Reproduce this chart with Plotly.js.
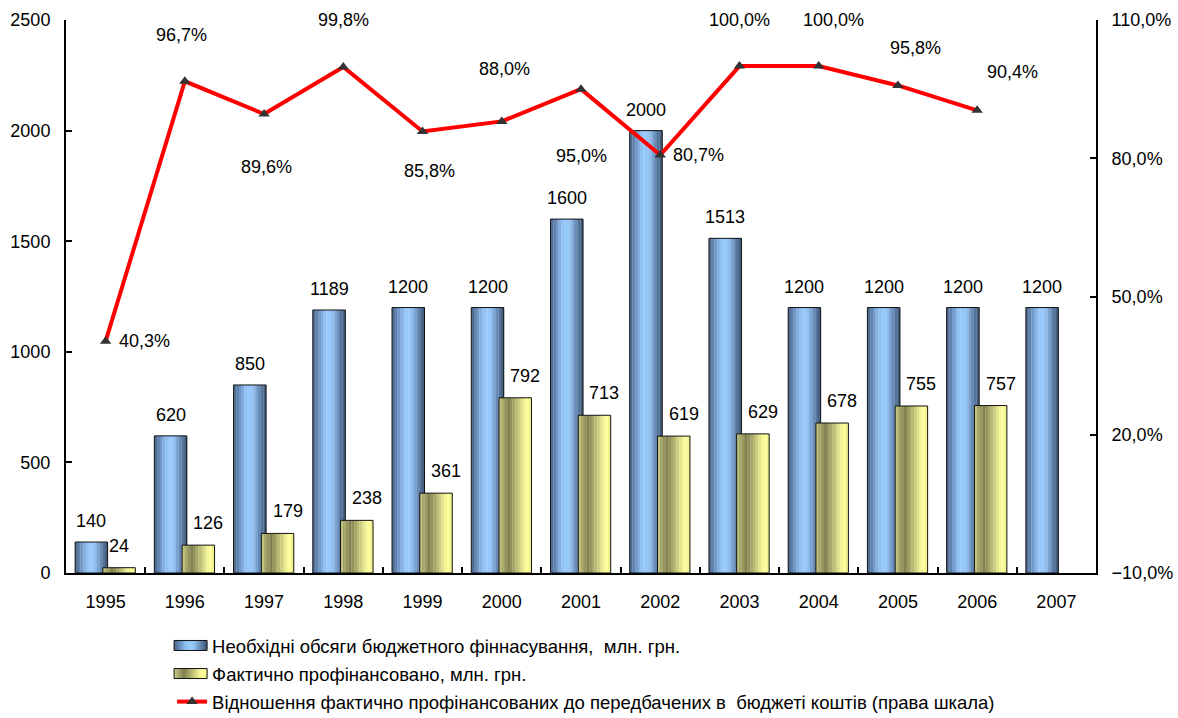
<!DOCTYPE html>
<html>
<head>
<meta charset="utf-8">
<script src="https://cdn.plot.ly/plotly-3.0.1.min.js"></script>
<style>
html,body{margin:0;padding:0;background:#fff;}
#chart{width:1178px;height:718px;}
</style>
</head>
<body>
<div id="chart"></div>
<script>
// ---- data ----
const years = ['1995','1996','1997','1998','1999','2000','2001','2002','2003','2004','2005','2006','2007'];
const required = [140, 620, 850, 1189, 1200, 1200, 1600, 2000, 1513, 1200, 1200, 1200, 1200];
const financed = [24, 126, 179, 238, 361, 792, 713, 619, 629, 678, 755, 757];
const ratioPct = [40.3, 96.7, 89.6, 99.8, 85.8, 88.0, 95.0, 80.7, 100.0, 100.0, 95.8, 90.4];
const seriesNames = [
  'Необхідні обсяги бюджетного фіннасування,  млн. грн.',
  'Фактично профінансовано, млн. грн.',
  'Відношення фактично профінансованих до передбачених в  бюджеті коштів (права шкала)'
];

// ---- styling ----
const FONT = 'Liberation Sans, Arial, sans-serif';
const FS = 18;
const BAR_W = 0.41;
const BLUE_OFF = -0.385, YEL_OFF = -0.035;
const CAT_PX = 1030 / 13;
const N = 12;
const blueStops = [[0,'#4a6587'],[0.12,'#5e80ab'],[0.35,'#8fbff0'],[0.5,'#99ccff'],[0.62,'#8fbdee'],[0.85,'#5a7aa3'],[1,'#3b5472']];
const yelStops  = [[0,'#cfcf8a'],[0.15,'#a3a366'],[0.3,'#80804f'],[0.55,'#bcbc76'],[0.78,'#f4f497'],[0.9,'#ffff99'],[1,'#e8e88d']];

function hex2rgb(h){return [parseInt(h.slice(1,3),16),parseInt(h.slice(3,5),16),parseInt(h.slice(5,7),16)];}
function colorAt(stops,t){
  for(let i=0;i<stops.length-1;i++){
    const [a,ca]=stops[i],[b,cb]=stops[i+1];
    if(t>=a && t<=b){
      const f=(t-a)/(b-a), A=hex2rgb(ca), B=hex2rgb(cb);
      return 'rgb('+A.map((v,k)=>Math.round(v+(B[k]-v)*f)).join(',')+')';
    }
  }
  return stops[stops.length-1][1];
}

const traces = [];
function addBarSeries(xs, ys, off, stops){
  for(let i=0;i<N;i++){
    traces.push({
      type:'bar', x:xs, y:ys, yaxis:'y',
      offset: off + i*BAR_W/N, width: BAR_W/N*1.08,
      marker:{color: colorAt(stops,(i+0.5)/N), line:{width:0}},
      showlegend:false, hoverinfo:'skip'
    });
  }
  traces.push({
    type:'bar', x:xs, y:ys, yaxis:'y', offset:off, width:BAR_W,
    marker:{color:'rgba(0,0,0,0)', line:{color:'#111', width:1}},
    showlegend:false, hoverinfo:'skip'
  });
}
addBarSeries(years, required, BLUE_OFF, blueStops);
addBarSeries(years.slice(0, financed.length), financed, YEL_OFF, yelStops);

// legend entries for the bar series
traces.push({type:'bar', x:years, y:years.map(()=>null), name:seriesNames[0], legendgroup:'a',
  marker:{color:'#7fa8d6', line:{color:'#111', width:1}}, hoverinfo:'skip'});
traces.push({type:'bar', x:years, y:years.map(()=>null), name:seriesNames[1], legendgroup:'b',
  marker:{color:'#c4c47c', line:{color:'#111', width:1}}, hoverinfo:'skip'});

traces.push({
  type:'scatter', mode:'lines+markers', x:years.slice(0, ratioPct.length), y:ratioPct, yaxis:'y2',
  name:seriesNames[2], legendgroup:'c',
  line:{color:'#ff0000', width:4},
  marker:{symbol:'triangle-up', size:10, color:'#333333'}
});

// ---- annotations (x given as category index) ----
const annotations = [];
const blueCenterPx = (BLUE_OFF + BAR_W/2) * CAT_PX;
const yelCenterPx = (YEL_OFF + BAR_W/2) * CAT_PX;
required.forEach((v,i)=>annotations.push({x:i, y:v, xref:'x', yref:'y', text:String(v), showarrow:false,
  xshift: blueCenterPx, yshift: 21, font:{size:FS}}));
const yelLabelDx = [0,10,10,10,10,10,10,10,10,10,10,10];
financed.forEach((v,i)=>annotations.push({x:i, y:v, xref:'x', yref:'y', text:String(v), showarrow:false,
  xshift: yelCenterPx + yelLabelDx[i], yshift: 22, font:{size:FS}}));
const lineLabelShift = [[39,0],[-3,46],[2,-53],[0,47],[7,-39],[3,52],[0,-67],[38,0],[0,46],[15,46],[18,37],[35,38]];
ratioPct.forEach((v,i)=>annotations.push({x:i, y:v, xref:'x', yref:'y2',
  text: v.toFixed(1).replace('.',',')+'%', showarrow:false,
  xshift: lineLabelShift[i][0], yshift: lineLabelShift[i][1], font:{size:FS}}));

const layout = {
  width:1178, height:718,
  margin:{l:66, r:82, t:20, b:145},
  paper_bgcolor:'#ffffff', plot_bgcolor:'#ffffff',
  font:{family:FONT, size:FS, color:'#000'},
  separators:', ',
  barmode:'overlay',
  showlegend:true,
  legend:{x:0.103, y:0.1268, xref:'paper', yref:'container', xanchor:'left', yanchor:'top', orientation:'v',
    font:{family:FONT, size:18.5, color:'#000'}, tracegroupgap:1, bgcolor:'rgba(0,0,0,0)'},
  xaxis:{type:'category', range:[-0.5,12.5], tickson:'boundaries', ticks:'inside', ticklen:6, tickwidth:2,
    tickcolor:'#000', showline:true, linecolor:'#000', linewidth:2, showgrid:false, zeroline:false,
    ticklabelstandoff:11, tickfont:{size:FS}},
  yaxis:{range:[0,2500], tick0:0, dtick:500, tickformat:'d', ticks:'inside', ticklen:6, tickwidth:2,
    tickcolor:'#000', showline:true, linecolor:'#000', linewidth:2, showgrid:false, zeroline:false,
    ticklabelstandoff:10, tickfont:{size:FS}},
  yaxis2:{overlaying:'y', side:'right', range:[-10,110], tick0:-10, dtick:30, tickformat:'.1f', ticksuffix:'%',
    ticks:'inside', ticklen:6, tickwidth:2, tickcolor:'#000', showline:true, linecolor:'#000', linewidth:2,
    showgrid:false, zeroline:false, ticklabelstandoff:10, tickfont:{size:FS}},
  annotations: annotations
};

Plotly.newPlot('chart', traces, layout, {displayModeBar:false, staticPlot:true}).then(function(){
  // give the bar legend symbols the wide shaded look of the original
  const NS='http://www.w3.org/2000/svg';
  const defs=document.querySelector('.main-svg defs');
  function grad(id, stops){
    const g=document.createElementNS(NS,'linearGradient');
    g.setAttribute('id',id); g.setAttribute('x1','0'); g.setAttribute('x2','1'); g.setAttribute('y1','0'); g.setAttribute('y2','0');
    stops.forEach(s=>{const st=document.createElementNS(NS,'stop'); st.setAttribute('offset',s[0]); st.setAttribute('stop-color',s[1]); g.appendChild(st);});
    defs.appendChild(g);
  }
  if(defs){ grad('lgBlue',blueStops); grad('lgYel',yelStops); }
  const items=document.querySelectorAll('.legend .traces');
  ['lgBlue','lgYel'].forEach((id,k)=>{
    if(!items[k]) return;
    const p=items[k].querySelector('.legendpoints path');
    if(p){ p.setAttribute('d','M-18,-5H15V5H-18Z'); p.style.fill='url(#'+id+')'; }
  });
});
</script>
</body>
</html>
